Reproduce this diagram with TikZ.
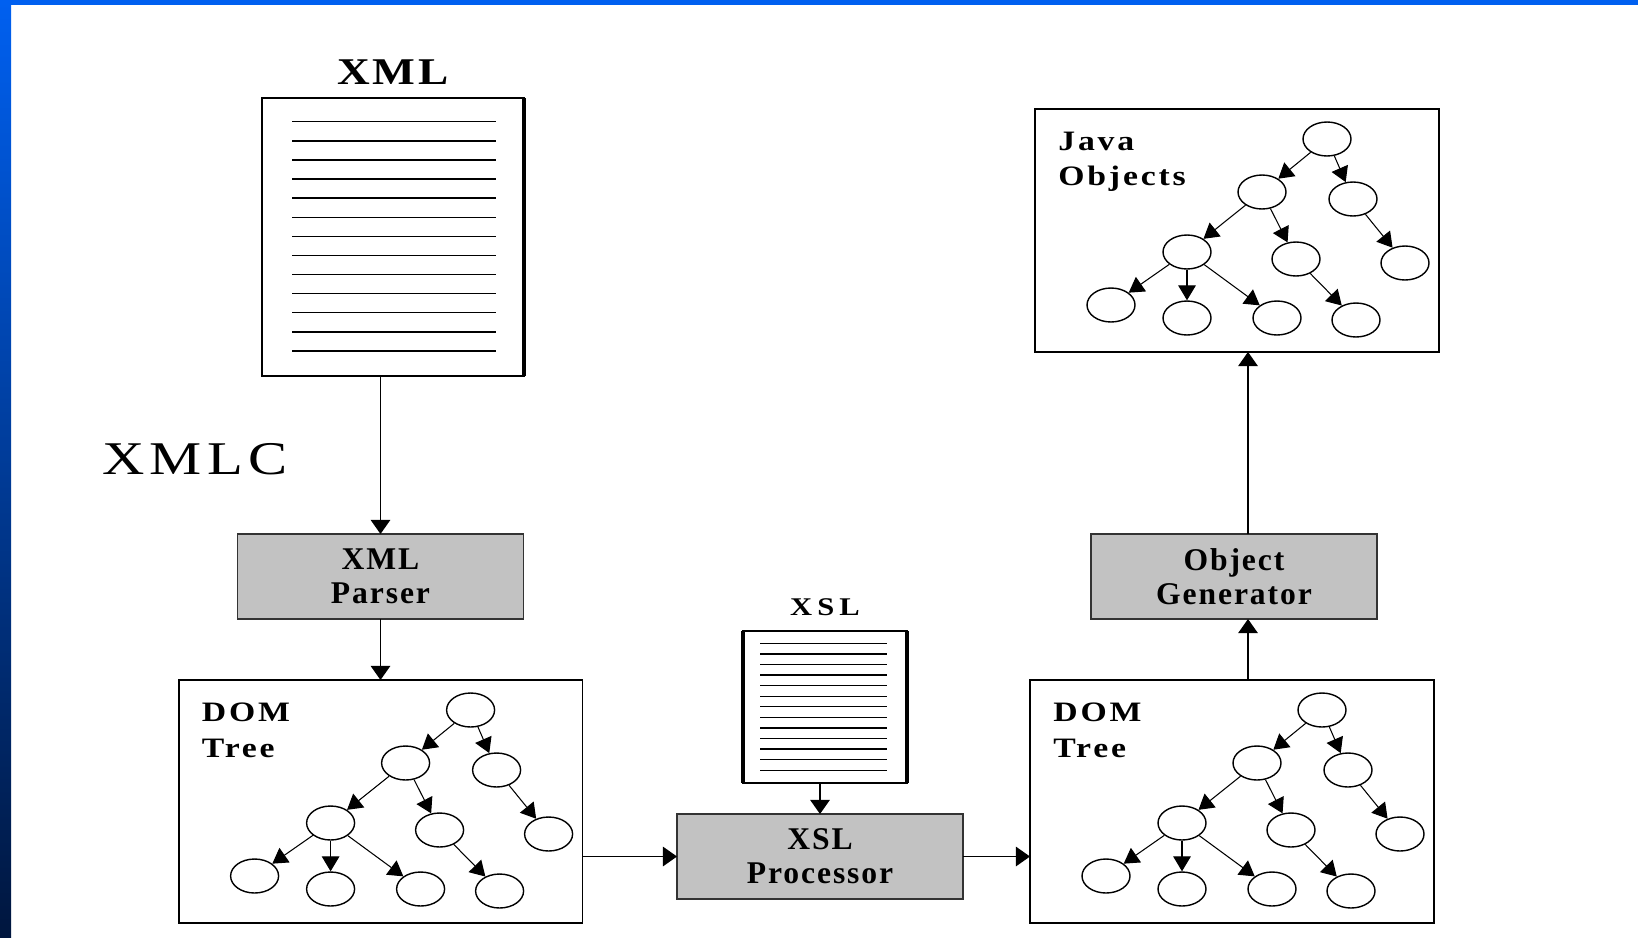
\documentclass[tikz,border=0pt]{standalone}
\usepackage{fontspec}
\setmainfont{Liberation Serif}
\usetikzlibrary{positioning,shapes.geometric,arrows.meta}

\definecolor{frameblue}{RGB}{0,96,240}
\definecolor{framenavy}{RGB}{0,22,62}
\definecolor{procgray}{RGB}{194,194,194}

% one framed tree panel: box, label and ten objects
\tikzset{
  treebox/.pic={
    \node[panel, anchor=north west] (-box) at (0,0) {};
    \node[panellabel] (-label) at (23,23) {#1};
    % tree nodes
    \node[leaf] (-r) at (292,30) {};
    \node[leaf] (-a) at (227,83) {};
    \node[leaf] (-b) at (318,90) {};
    \node[leaf] (-aa) at (152,143) {};
    \node[leaf] (-ab) at (261,150) {};
    \node[leaf] (-ba) at (370,154) {};
    \node[leaf] (-aaa) at (76,196) {};
    \node[leaf] (-aab) at (152,209) {};
    \node[leaf] (-aac) at (242,209) {};
    \node[leaf] (-aba) at (321,211) {};
    % tree edges
    \draw[branch] (-r) -- (-a);
    \draw[branch] (-r) -- (-b);
    \draw[branch] (-a) -- (-aa);
    \draw[branch] (-a) -- (-ab);
    \draw[branch] (-b) -- (-ba);
    \draw[branch] (-aa) -- (-aaa);
    \draw[branch] (-aa) -- (-aab);
    \draw[branch] (-aa) -- (-aac);
    \draw[branch] (-ab) -- (-aba);
  }
}

\begin{document}
\begin{tikzpicture}[x=0.02cm, y=-0.02cm,
    panel/.style={draw, line width=1.1pt, minimum width=8.08cm, minimum height=4.86cm, outer sep=0},
    panellabel/.style={anchor=north west, align=left, inner sep=0,
      font=\bfseries\fontsize{16}{20}\selectfont\addfontfeatures{FakeStretch=1.2,LetterSpace=10}},
    leaf/.style={ellipse, draw, line width=0.8pt, minimum width=0.96cm, minimum height=0.68cm, inner sep=0},
    branch/.style={-{Triangle[length=8.5pt,width=10pt]}, line width=0.6pt},
    procbox/.style={draw=black!80, line width=1.1pt, fill=procgray, minimum width=5.72cm,
      minimum height=1.7cm, align=center, outer sep=0,
      font=\bfseries\fontsize{18}{19.5}\selectfont\addfontfeatures{LetterSpace=6}},
    docbox/.style={draw, line width=1pt, fill=white, outer sep=0},
    docline/.style={line width=0.8pt},
    flow/.style={-{Triangle[length=8pt,width=11pt]}, line width=1pt},
    doctitle/.style={inner sep=0,
      font=\bfseries\fontsize{21.5}{24}\selectfont\addfontfeatures{FakeStretch=1.2,LetterSpace=8}}]

  \useasboundingbox (0,0) rectangle (1638,937);

  % slide frame
  \shade[top color=frameblue, bottom color=framenavy] (0,0) rectangle (11,937);
  \fill[frameblue] (0,0) rectangle (1638,5);

  % XML document
  \node[docbox, minimum width=5.24cm, minimum height=5.56cm] (xmldoc) at (393,237) {};
  \draw[line width=2.2pt] (xmldoc.north east) -- (xmldoc.south east);
  \foreach \k in {0,...,12}
    \draw[docline] (292,{121.7+19.1*\k}) -- (496,{121.7+19.1*\k});
  \node[doctitle, above=0.26cm of xmldoc] (xmltitle) {XML};

  \node[inner sep=0, anchor=base west,
    font=\fontsize{26.7}{30}\selectfont\addfontfeatures{FakeStretch=1.25,LetterSpace=11}] (xmlc) at (102,474) {XMLC};

  \node[procbox] (parser) at (380.5,576.5) {XML\\Parser};
  \pic (doml) at (178.6,680) {treebox={DOM\\Tree}};

  % XSL document
  \node[docbox, minimum width=3.28cm, minimum height=3.04cm] (xsldoc) at (825,707) {};
  \draw[line width=1.8pt] (xsldoc.north west) -- (xsldoc.south west)
    (xsldoc.north east) -- (xsldoc.south east);
  \foreach \k in {0,...,12}
    \draw[docline] (760,{643.3+10.58*\k}) -- (887,{643.3+10.58*\k});
  \node[doctitle, font=\bfseries\fontsize{14.5}{16}\selectfont\addfontfeatures{FakeStretch=1.2,LetterSpace=20},
    above=0.3cm of xsldoc] (xsltitle) {XSL};

  \node[procbox] (xslproc) at (820,856.5) {XSL\\Processor};
  \pic (domr) at (1030,680) {treebox={DOM\\Tree}};
  \node[procbox] (objgen) at (1234,576.5) {Object\\Generator};
  \pic (java) at (1035,109) {treebox={Java\\Objects}};

  % flow
  \draw[flow] (parser.north |- xmldoc.south) -- (parser.north);
  \draw[flow] (parser.south) -- (parser.south |- doml-box.north);
  \draw[flow] (xslproc.north |- xsldoc.south) -- (xslproc.north);
  \draw[flow] (doml-box.east |- xslproc.west) -- (xslproc.west);
  \draw[flow] (xslproc.east) -- (domr-box.west |- xslproc.east);
  \draw[flow] ([xshift=0.28cm]objgen.south |- domr-box.north) -- ([xshift=0.28cm]objgen.south);
  \draw[flow] ([xshift=0.28cm]objgen.north) -- ([xshift=0.28cm]objgen.north |- java-box.south);
\end{tikzpicture}
\end{document}
